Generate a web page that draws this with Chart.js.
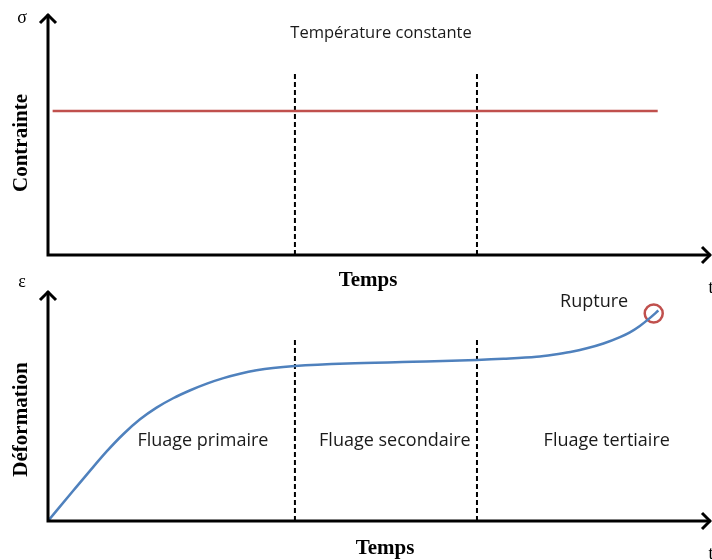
<!DOCTYPE html>
<html>
<head>
<meta charset="utf-8">
<script src="https://cdn.jsdelivr.net/npm/chart.js@4.4.1/dist/chart.umd.min.js"></script>
<style>
  body { margin: 0; background: #fff; }
  #wrap { position: relative; width: 712px; height: 560px; overflow: hidden; }
  canvas { position: absolute; left: 0; }
  #StressChart { top: 0; }
  #StrainChart { top: 270px; }
</style>
</head>
<body>
<div id="wrap">
  <canvas id="StressChart" width="712" height="300"></canvas>
  <canvas id="StrainChart" width="712" height="290"></canvas>
</div>
<script>
// time axis runs 0..100, both vertical axes 0..100
const stressTime = [0.7, 92.1];
const stressLevel = [60, 60];

const phaseBounds = [37.3, 64.8];
const phaseNames = ['Fluage primaire', 'Fluage secondaire', 'Fluage tertiaire'];

const creepTime = [0, 3.8, 6.3, 8.9, 11.4, 13.9, 16.4, 18.9, 21.5, 24.0, 26.5, 29.0, 31.5, 34.0, 37.3,
    45.2, 55.1, 64.8, 68.8, 73.8, 76.3, 78.9, 81.4, 83.9, 86.4, 87.9, 89.4, 90.9, 92.2];
const creepStrain = [0, 13.2, 21.8, 30.5, 38.0, 44.4, 49.5, 53.6, 57.1, 60.0, 62.4, 64.3, 65.8, 66.85, 67.7,
    68.8, 69.5, 70.3, 70.8, 71.7, 72.6, 73.8, 75.4, 77.5, 80.3, 82.4, 85.2, 88.6, 91.9];

const rupture = { x: 91.5, y: 90.6 };

const RED = '#C0504D';
const BLUE = '#4F81BD';
const SERIF = '"Liberation Serif", "DejaVu Serif", serif';
const SANS = '"Open Sans", "Noto Sans", sans-serif';

function toPoints(xs, ys) {
    return xs.map((x, i) => ({ x: x, y: ys[i] }));
}

function dashedLine(x, top) {
    return {
        data: [{ x: x, y: 0 }, { x: x, y: top }],
        borderColor: '#000',
        borderWidth: 2,
        borderDash: [5, 3],
        pointRadius: 0
    };
}

// open chevron arrowhead
function arrowHead(ctx, x, y, dir) {
    const s = 8;
    ctx.beginPath();
    if (dir === 'up') {
        ctx.moveTo(x - s, y + s);
        ctx.lineTo(x, y);
        ctx.lineTo(x + s, y + s);
    } else {
        ctx.moveTo(x - s, y - s);
        ctx.lineTo(x, y);
        ctx.lineTo(x - s, y + s);
    }
    ctx.stroke();
}

// axes with arrows and their labels
function axesPlugin(opt) {
    return {
        id: 'arrowAxes',
        afterDraw(chart) {
            const ctx = chart.ctx;
            const a = chart.chartArea;
            ctx.save();
            ctx.strokeStyle = '#000';
            ctx.lineWidth = 3;
            ctx.lineCap = 'square';
            ctx.beginPath();
            ctx.moveTo(a.left, a.top + 1);
            ctx.lineTo(a.left, a.bottom);
            ctx.lineTo(a.right - 1, a.bottom);
            ctx.stroke();
            ctx.lineCap = 'butt';
            arrowHead(ctx, a.left, a.top, 'up');
            arrowHead(ctx, a.right, a.bottom, 'right');

            ctx.fillStyle = '#000';
            ctx.textAlign = 'center';
            ctx.textBaseline = 'middle';
            ctx.font = '18px ' + SERIF;
            ctx.fillText(opt.symbol, 22, a.top + opt.symbolDy);
            ctx.fillText('t', a.right + 1, a.bottom + 33);

            ctx.font = 'bold 21px ' + SERIF;
            ctx.fillText('Temps', opt.titleX, a.bottom + opt.titleDy);

            ctx.translate(22, (a.top + a.bottom) / 2 + opt.yTitleDy);
            ctx.rotate(-Math.PI / 2);
            ctx.fillText(opt.yTitle, 0, 0);
            ctx.restore();
        }
    };
}

function textPlugin(items) {
    return {
        id: 'notes',
        afterDatasetsDraw(chart) {
            const ctx = chart.ctx;
            const xs = chart.scales.x, ys = chart.scales.y;
            ctx.save();
            ctx.fillStyle = '#1a1a1a';
            ctx.textAlign = 'center';
            ctx.textBaseline = 'middle';
            items.forEach(it => {
                ctx.font = it.size + 'px ' + SANS;
                ctx.fillText(it.text, xs.getPixelForValue(it.x), ys.getPixelForValue(it.y));
            });
            ctx.restore();
        }
    };
}

function baseOptions(padding) {
    return {
        responsive: false,
        animation: false,
        layout: { padding: padding, autoPadding: false },
        plugins: { legend: { display: false }, tooltip: { enabled: false } },
        scales: {
            x: { type: 'linear', min: 0, max: 100, display: false },
            y: { min: 0, max: 100, display: false }
        }
    };
}

new Chart(document.getElementById('StressChart'), {
    type: 'line',
    data: {
        datasets: [
            {
                data: toPoints(stressTime, stressLevel),
                borderColor: RED,
                borderWidth: 2.5,
                pointRadius: 0
            },
            dashedLine(phaseBounds[0], 76),
            dashedLine(phaseBounds[1], 76)
        ]
    },
    options: baseOptions({ left: 48, right: 2, top: 15, bottom: 45 }),
    plugins: [
        axesPlugin({ symbol: 'σ', symbolDy: 3, yTitle: 'Contrainte', yTitleDy: 8, titleX: 368, titleDy: 26 }),
        textPlugin([{ text: 'Température constante', x: 50.3, y: 92.5, size: 16.5 }])
    ]
});

new Chart(document.getElementById('StrainChart'), {
    type: 'line',
    data: {
        datasets: [
            {
                data: toPoints(creepTime, creepStrain),
                borderColor: BLUE,
                borderWidth: 2.5,
                pointRadius: 0,
                cubicInterpolationMode: 'monotone'
            },
            {
                data: [rupture],
                showLine: false,
                pointRadius: 9,
                pointBorderWidth: 2.5,
                pointBorderColor: RED,
                pointBackgroundColor: 'rgba(0,0,0,0)'
            },
            dashedLine(phaseBounds[0], 79),
            dashedLine(phaseBounds[1], 79)
        ]
    },
    options: baseOptions({ left: 48, right: 2, top: 22, bottom: 39 }),
    plugins: [
        axesPlugin({ symbol: 'ε', symbolDy: -10, yTitle: 'Déformation', yTitleDy: 13, titleX: 385, titleDy: 28 }),
        textPlugin([
            { text: phaseNames[0], x: 23.4, y: 35, size: 18 },
            { text: phaseNames[1], x: 52.4, y: 35, size: 18 },
            { text: phaseNames[2], x: 84.4, y: 35, size: 18 },
            { text: 'Rupture', x: 82.5, y: 95.5, size: 18 }
        ])
    ]
});
</script>
</body>
</html>
